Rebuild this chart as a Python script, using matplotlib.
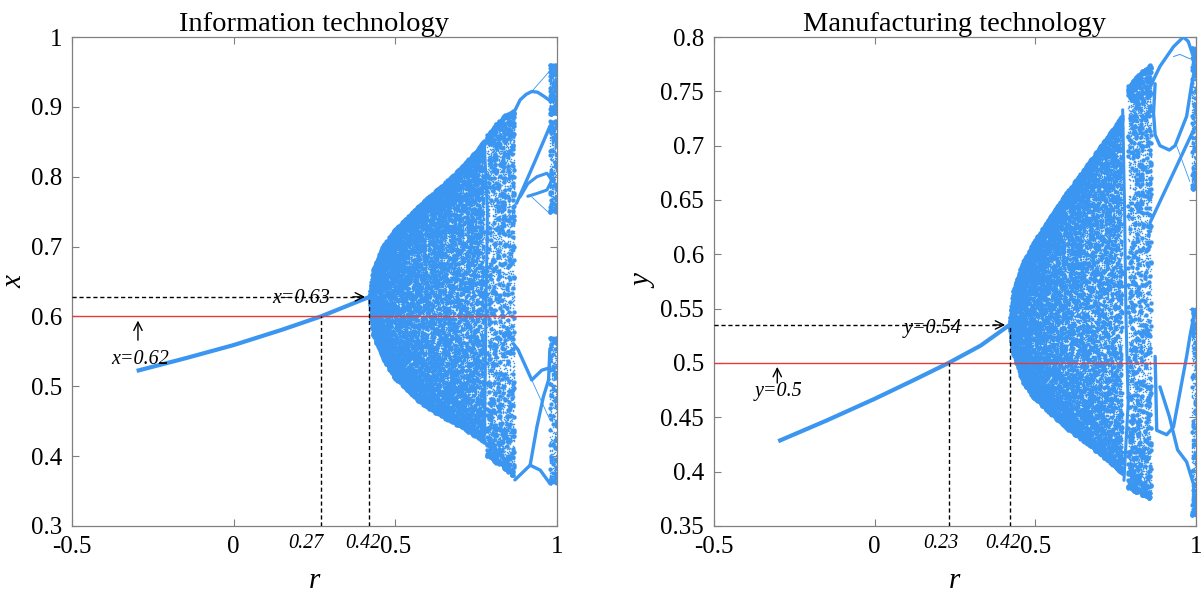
import numpy as np
import matplotlib
matplotlib.use("Agg")
import matplotlib.pyplot as plt

plt.rcParams['font.family'] = ['Liberation Serif', 'DejaVu Serif']
plt.rcParams['axes.unicode_minus'] = False

BLEU = '#3a96f0'
ROUGE = '#e23c3c'

##############################
# Donnees - Information technology (x)

x_r_fix = [-0.3, -0.15, 0.0, 0.15, 0.27, 0.42]
x_fix = [0.522, 0.540, 0.559, 0.581, 0.600, 0.628]

x_env_r = [0.42, 0.43, 0.46, 0.50, 0.58, 0.65, 0.70, 0.74, 0.775]
x_env_haut = [0.628, 0.665, 0.700, 0.725, 0.762, 0.790, 0.812, 0.832, 0.852]
x_env_bas = [0.628, 0.575, 0.540, 0.510, 0.475, 0.455, 0.442, 0.430, 0.420]

x_bande_r = [0.785, 0.83, 0.868]
x_bande_haut = [0.860, 0.885, 0.895]
x_bande_bas = [0.400, 0.385, 0.370]

x_branches = [
    ([0.775, 0.785, 0.780, 0.776], [0.850, 0.750, 0.600, 0.430], 2.2),
    ([0.868, 0.886, 0.905, 0.922, 0.940, 0.960, 0.975, 0.990],
     [0.893, 0.910, 0.918, 0.922, 0.921, 0.915, 0.910, 0.915], 2.4),
    ([0.922, 0.990], [0.922, 0.958], 0.6),
    ([0.875, 0.930, 0.978], [0.762, 0.820, 0.872], 2.4),
    ([0.886, 0.910, 0.938, 0.969, 0.984, 0.969, 0.938, 0.910],
     [0.771, 0.790, 0.800, 0.805, 0.795, 0.781, 0.776, 0.772], 2.2),
    ([0.922, 0.978], [0.771, 0.747], 0.6),
    ([0.865, 0.880, 0.922, 0.953, 0.974, 0.989],
     [0.561, 0.552, 0.509, 0.523, 0.526, 0.523], 2.4),
    ([0.870, 0.917, 0.948, 0.978], [0.366, 0.387, 0.380, 0.361], 2.4),
    ([0.917, 0.938, 0.958, 0.974, 0.978], [0.387, 0.442, 0.485, 0.509, 0.552], 2.4),
    ([0.922, 0.978], [0.509, 0.452], 0.6),
]
x_bord_r = [0.978, 0.998]
x_bord_plages = [(0.89, 0.96), (0.75, 0.88), (0.36, 0.57)]

##############################
# Donnees - Manufacturing technology (y)

y_r_fix = [-0.3, -0.15, 0.0, 0.12, 0.23, 0.33, 0.42]
y_fix = [0.428, 0.447, 0.467, 0.484, 0.500, 0.516, 0.535]

y_env_r = [0.42, 0.43, 0.46, 0.50, 0.588, 0.65, 0.708, 0.77]
y_env_haut = [0.535, 0.565, 0.592, 0.614, 0.653, 0.678, 0.702, 0.728]
y_env_bas = [0.535, 0.510, 0.482, 0.466, 0.442, 0.428, 0.414, 0.398]

y_bande_r = [0.79, 0.82, 0.86]
y_bande_haut = [0.755, 0.765, 0.775]
y_bande_bas = [0.385, 0.380, 0.375]

y_branches = [
    ([0.772, 0.778, 0.782, 0.789, 0.776], [0.733, 0.640, 0.546, 0.463, 0.392], 2.2),
    ([0.857, 0.888, 0.930, 0.961, 0.976, 0.992, 0.997],
     [0.754, 0.773, 0.791, 0.800, 0.796, 0.782, 0.767], 2.4),
    ([0.930, 0.950, 0.981], [0.782, 0.784, 0.780], 0.7),
    ([0.873, 0.868, 0.873, 0.888, 0.917, 0.935, 0.971, 0.987, 0.997],
     [0.757, 0.730, 0.710, 0.700, 0.696, 0.700, 0.727, 0.757, 0.770], 2.4),
    ([0.857, 0.992], [0.629, 0.714], 2.4),
    ([0.940, 0.981], [0.700, 0.667], 0.6),
    ([0.873, 0.878, 0.909, 0.930, 0.971, 0.981, 0.997],
     [0.506, 0.438, 0.434, 0.441, 0.506, 0.524, 0.549], 2.4),
    ([0.888, 0.917, 0.943, 0.971, 0.992, 0.997],
     [0.478, 0.451, 0.420, 0.409, 0.389, 0.362], 2.4),
]
y_bord_r = [0.987, 0.999]
y_bord_plages = [(0.66, 0.79), (0.36, 0.55)]


##############################
# Nuage : iteration de u -> 4u(1-u) dans chaque colonne, ramenee entre les enveloppes

def iterations(ncol, npts, depart):
    u = (np.arange(ncol) * 0.6180339887 + depart) % 1 * 0.98 + 0.01
    U = np.empty((ncol, npts))
    for k in range(npts):
        u = 3.99995 * u * (1 - u)
        U[:, k] = u
    return U


def nuage(ax, r_env, haut, bas, ncol, npts, taille, depart=0.1):
    rr = np.linspace(r_env[0], r_env[-1], ncol)
    h = np.interp(rr, r_env, haut)[:, None]
    b = np.interp(rr, r_env, bas)[:, None]
    U = iterations(ncol, npts, depart)
    X = b + (h - b) * U
    R = np.repeat(rr, npts)
    ax.scatter(R, X.ravel(), s=taille, color=BLEU, linewidths=0, zorder=2)


def bord(ax, r_lim, plages):
    for i, (bas, haut) in enumerate(plages):
        nuage(ax, r_lim, [haut, haut], [bas, bas], 5, 14, 9, depart=0.3 + 0.2 * i)
        nuage(ax, r_lim, [haut, haut], [bas, bas], 12, 30, 1.2, depart=0.7 + 0.1 * i)


def panneau(ax, titre, nom, r_fix, fix, env, bande, branches, bord_r, bord_plages,
            ylim, yticks, seuil, fleche, r_marques, lab_decal, point_txt):
    # nuage principal et bande chaotique
    nuage(ax, env[0], env[1], env[2], 520, 40, 1.3)
    nuage(ax, env[0], env[1], env[2], 300, 16, 8, depart=0.37)
    nuage(ax, bande[0], bande[1], bande[2], 70, 40, 1.3, depart=0.5)
    nuage(ax, bande[0], bande[1], bande[2], 22, 30, 10, depart=0.21)
    for (br, bx, lw) in branches:
        ax.plot(br, bx, color=BLEU, lw=lw, solid_capstyle='round', zorder=3)
    bord(ax, bord_r, bord_plages)

    # point fixe
    ax.plot(r_fix, fix, color=BLEU, lw=3.0, solid_capstyle='butt', zorder=3)

    # seuil rouge
    ax.axhline(seuil, color=ROUGE, lw=1.0, zorder=4)

    # lignes pointillees
    r_a, r_b = r_marques
    ax.plot([r_a, r_a], [ylim[0], seuil], 'k--', lw=1.0, dashes=(3, 2), zorder=4)
    ax.plot([r_b, r_b], [ylim[0], fix[-1]], 'k--', lw=1.0, dashes=(3, 2), zorder=4)
    ax.plot([-0.5, r_b - 0.03], [fix[-1], fix[-1]], 'k--', lw=1.0, dashes=(3, 2), zorder=4)
    ax.annotate('', xy=(r_b - 0.005, fix[-1]), xytext=(r_b - 0.06, fix[-1]),
                arrowprops=dict(arrowstyle='->', color='k', lw=1.0, mutation_scale=15), zorder=5)
    ax.text(point_txt[0], point_txt[1], point_txt[2], fontsize=14.5, fontstyle='italic',
            ha='center', va='center', zorder=5)

    # fleche vers le seuil
    fx, fy0, fy1, tx, ty, txt = fleche
    ax.annotate('', xy=(fx, fy1), xytext=(fx, fy0),
                arrowprops=dict(arrowstyle='->', color='k', lw=1.0, mutation_scale=15), zorder=5)
    ax.text(tx, ty, txt, fontsize=14.5, fontstyle='italic', ha='center', va='center', zorder=5)

    # valeurs de r sous l'axe
    for r, d in zip(r_marques, lab_decal):
        ax.text(r + d, -0.035, '%g' % r, transform=ax.get_xaxis_transform(),
                fontsize=14.5, fontstyle='italic', ha='center', va='center')

    ax.set_xlim(-0.5, 1)
    ax.set_ylim(*ylim)
    ax.set_xticks([-0.5, 0, 0.5, 1])
    ax.set_xticklabels(['-0.5', '0', '0.5', '1'])
    ax.set_yticks(yticks)
    ax.set_yticklabels(['%g' % v for v in yticks])
    ax.tick_params(direction='in', top=True, right=True, length=5, width=0.8,
                   color='#808080', labelsize=18, pad=7)
    for s in ax.spines.values():
        s.set_color('#808080')
        s.set_linewidth(0.9)
    ax.set_title(titre, fontsize=20.5, pad=4)
    ax.set_xlabel('r', fontsize=21, fontstyle='italic')
    ax.xaxis.set_label_coords(0.5, -0.085)
    ax.set_ylabel(nom, fontsize=21, fontstyle='italic')


fig = plt.figure(figsize=(12.04, 5.95), dpi=100)
ax1 = fig.add_axes([0.0598, 0.116, 0.4028, 0.8218])
ax2 = fig.add_axes([0.5930, 0.116, 0.4003, 0.8218])

panneau(ax1, 'Information technology', 'x', x_r_fix, x_fix,
        (x_env_r, x_env_haut, x_env_bas), (x_bande_r, x_bande_haut, x_bande_bas),
        x_branches, x_bord_r, x_bord_plages,
        (0.3, 1), [0.3, 0.4, 0.5, 0.6, 0.7, 0.8, 0.9, 1.0], 0.6,
        (-0.296, 0.562, 0.598, -0.29, 0.539, 'x=0.62'), [0.27, 0.42], [-0.045, -0.02],
        (0.21, 0.625, 'x=0.63'))
ax1.yaxis.set_label_coords(-0.092, 0.5)

panneau(ax2, 'Manufacturing technology', 'y', y_r_fix, y_fix,
        (y_env_r, y_env_haut, y_env_bas), (y_bande_r, y_bande_haut, y_bande_bas),
        y_branches, y_bord_r, y_bord_plages,
        (0.35, 0.8), [0.35, 0.4, 0.45, 0.5, 0.55, 0.6, 0.65, 0.7, 0.75, 0.8], 0.5,
        (-0.303, 0.479, 0.499, -0.30, 0.474, 'y=0.5'), [0.23, 0.42], [-0.025, -0.02],
        (0.18, 0.532, 'y=0.54'))
ax2.yaxis.set_label_coords(-0.118, 0.5)

plt.savefig('out.png', dpi=100)
